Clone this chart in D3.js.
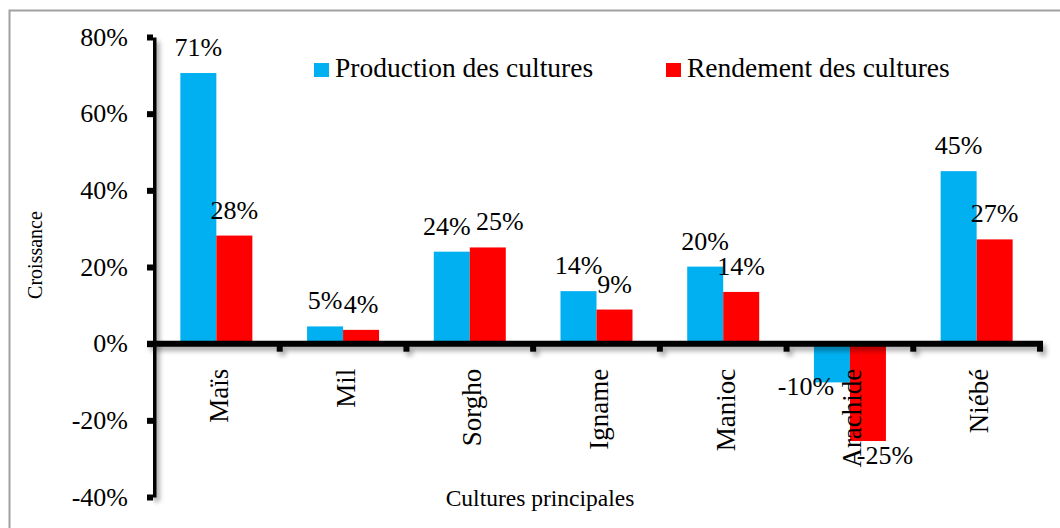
<!DOCTYPE html>
<html>
<head>
<meta charset="utf-8">
<script src="https://cdn.jsdelivr.net/npm/d3@7"></script>
<style>
    body { margin: 0; background: #fff; }
    svg { display: block; }
    text { font-family: "Times New Roman", "Liberation Serif", serif; fill: #000; }
</style>
</head>
<body>
<svg id="chart"></svg>
<script>
// chart data
const categories = ['Maïs', 'Mil', 'Sorgho', 'Igname', 'Manioc', 'Arachide', 'Niébé'];
const seriesNames = ['Production des cultures', 'Rendement des cultures'];
const production = [70.6, 4.5, 24.0, 13.7, 20.1, -10.1, 45.0];
const rendement = [28.2, 3.6, 25.1, 8.9, 13.5, -25.4, 27.2];
const yTicks = [-40, -20, 0, 20, 40, 60, 80];

const colors = ['#00B0F0', '#FF0000'];

const width = 1060;
const height = 528;

// labels moved by hand in the original
const labelNudge = {
    'Sorgho-0': [-5, 0],
    'Sorgho-1': [12, 0],
    'Arachide-0': [-26, -10],
    'Arachide-1': [17, 0]
};

let svg = d3.select('#chart')
    .attr('width', width)
    .attr('height', height);

let defs = svg.append('defs');
let shadow = defs.append('filter')
    .attr('id', 'shadow')
    .attr('filterUnits', 'userSpaceOnUse')
    .attr('x', 0).attr('y', 0)
    .attr('width', width).attr('height', height);
shadow.append('feDropShadow')
    .attr('dx', 3)
    .attr('dy', 4)
    .attr('stdDeviation', 2.5)
    .attr('flood-color', '#000')
    .attr('flood-opacity', 0.35);

// chart area border
svg.append('rect')
    .attr('x', 9.5)
    .attr('y', 10.5)
    .attr('width', 1100)
    .attr('height', 600)
    .attr('fill', 'none')
    .attr('stroke', '#a0a0a0')
    .attr('stroke-width', 2);

let x = d3.scaleBand()
    .domain(categories)
    .range([153, 1040])
    .padding(0);

let xSeries = d3.scaleBand()
    .domain([0, 1])
    .range([0, x.bandwidth()])
    .paddingInner(0)
    .paddingOuter(0.76);

let y = d3.scaleLinear()
    .domain([-40, 80])
    .range([497, 37]);

let rows = categories.map((c, i) => ({
    cat: c,
    values: [production[i], rendement[i]]
}));

function nudge(d) {
    return labelNudge[d.cat + '-' + d.s] || [0, 0];
}

// bars
let groups = svg.append('g')
    .selectAll('g')
    .data(rows)
    .enter()
    .append('g')
    .attr('transform', d => `translate(${x(d.cat)},0)`);

groups.selectAll('rect')
    .data(d => d.values.map((v, s) => ({ v: v, s: s, cat: d.cat })))
    .enter()
    .append('rect')
    .attr('x', d => xSeries(d.s))
    .attr('width', xSeries.bandwidth())
    .attr('y', d => y(Math.max(0, d.v)))
    .attr('height', d => Math.abs(y(d.v) - y(0)))
    .attr('fill', d => colors[d.s]);

// data labels
groups.selectAll('text')
    .data(d => d.values.map((v, s) => ({ v: v, s: s, cat: d.cat })))
    .enter()
    .append('text')
    .attr('font-size', 26)
    .attr('text-anchor', 'middle')
    .attr('x', d => xSeries(d.s) + xSeries.bandwidth() / 2 + nudge(d)[0])
    .attr('y', d => (d.v >= 0 ? y(d.v) - 17 : y(d.v) + 23) + nudge(d)[1])
    .text(d => Math.round(d.v) + '%');

// y axis
let yAxis = d3.axisLeft(y)
    .tickValues(yTicks)
    .tickSize(6)
    .tickSizeOuter(0)
    .tickPadding(19)
    .tickFormat(d => d + '%');

let yG = svg.append('g')
    .attr('transform', 'translate(153,0)')
    .call(yAxis);

yG.select('.domain')
    .attr('stroke', '#000')
    .attr('stroke-width', 6)
    .attr('filter', 'url(#shadow)');
yG.selectAll('.tick line')
    .attr('stroke', '#000')
    .attr('stroke-width', 6);
yG.selectAll('.tick text')
    .attr('font-size', 26)
    .attr('fill', '#000');

// x axis (ticks between categories, Excel style)
let xG = svg.append('g').attr('filter', 'url(#shadow)');
let x0 = x.range()[0];
xG.append('line')
    .attr('x1', x0 - 6)
    .attr('x2', x.range()[1] + 3)
    .attr('y1', y(0))
    .attr('y2', y(0))
    .attr('stroke', '#000')
    .attr('stroke-width', 6);

xG.selectAll('line.xtick')
    .data(d3.range(1, categories.length + 1))
    .enter()
    .append('line')
    .classed('xtick', true)
    .attr('x1', i => x0 + i * x.step())
    .attr('x2', i => x0 + i * x.step())
    .attr('y1', y(0))
    .attr('y2', y(0) + 8)
    .attr('stroke', '#000')
    .attr('stroke-width', 6);

// category labels, rotated
svg.append('g')
    .selectAll('text')
    .data(categories)
    .enter()
    .append('text')
    .attr('font-size', 27)
    .attr('text-anchor', 'end')
    .attr('dy', '0.35em')
    .attr('transform', d => `translate(${x(d) + x.bandwidth() / 2 + 2},${y(0) + 25}) rotate(-90)`)
    .text(d => d);

// axis titles
svg.append('text')
    .attr('font-size', 20)
    .attr('text-anchor', 'middle')
    .attr('dy', '0.35em')
    .attr('transform', 'translate(35,255) rotate(-90)')
    .text('Croissance');

svg.append('text')
    .attr('font-size', 23.5)
    .attr('text-anchor', 'middle')
    .attr('x', 540)
    .attr('y', 506)
    .text('Cultures principales');

// legend
let legendX = [314, 666];
let legend = svg.append('g')
    .selectAll('g')
    .data(seriesNames)
    .enter()
    .append('g')
    .attr('transform', (d, i) => `translate(${legendX[i]},63)`);

legend.append('rect')
    .attr('width', 15)
    .attr('height', 14)
    .attr('fill', (d, i) => colors[i]);

legend.append('text')
    .attr('x', 21)
    .attr('y', 14)
    .attr('font-size', 27.5)
    .text(d => d);
</script>
</body>
</html>
